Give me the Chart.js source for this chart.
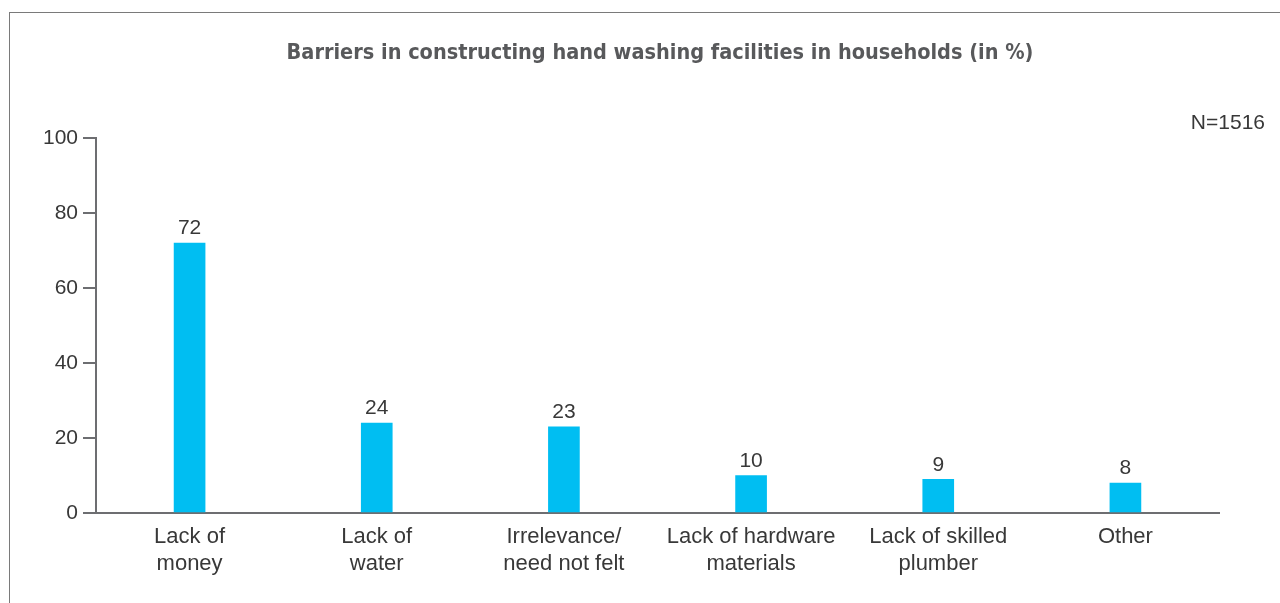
<!DOCTYPE html>
<html>
<head>
<meta charset="utf-8">
<script src="https://cdn.jsdelivr.net/npm/chart.js@4.4.0/dist/chart.umd.min.js"></script>
<style>
    html, body { margin: 0; padding: 0; background: #fff; }
    #wrap { position: relative; width: 1280px; height: 603px; }
    #frame {
        position: absolute; left: 9px; top: 12px; right: -5px; bottom: -5px;
        border-left: 1px solid #7a7a7a; border-top: 1px solid #7a7a7a;
    }
    canvas { position: absolute; left: 0; top: 0; }
</style>
</head>
<body>
<div id="wrap">
    <div id="frame"></div>
    <canvas id="barriersChart" width="1280" height="603"></canvas>
</div>
<script>
    const chartTitle = 'Barriers in constructing hand washing facilities in households (in %)';
    const sampleNote = 'N=1516';
    const categories = [
        ['Lack of', 'money'],
        ['Lack of', 'water'],
        ['Irrelevance/', 'need not felt'],
        ['Lack of hardware', 'materials'],
        ['Lack of skilled', 'plumber'],
        'Other'
    ];
    const shares = [72, 24, 23, 10, 9, 8];
    const yTicks = [0, 20, 40, 60, 80, 100];

    const textColor = '#383838';
    const axisColor = '#6d6e71';
    const lightFont = "'Liberation Sans', 'Noto Sans', sans-serif";

    // Title, N note and value labels
    const annotate = {
        id: 'annotate',
        afterDatasetsDraw(chart) {
            const ctx = chart.ctx;
            ctx.save();
            ctx.fillStyle = '#58595b';
            ctx.font = "bold 21.5px 'DejaVu Sans Condensed', sans-serif";
            ctx.textAlign = 'center';
            ctx.textBaseline = 'middle';
            ctx.fillText(chartTitle, 660, 53);

            ctx.fillStyle = textColor;
            ctx.font = '21px ' + lightFont;
            ctx.textAlign = 'right';
            ctx.fillText(sampleNote, 1265, 123);

            ctx.textAlign = 'center';
            ctx.textBaseline = 'bottom';
            chart.getDatasetMeta(0).data.forEach((bar, i) => {
                ctx.fillText(String(shares[i]), bar.x, bar.y - 4);
            });
            ctx.restore();
        }
    };

    const ctx = document.getElementById('barriersChart').getContext('2d');

    new Chart(ctx, {
        type: 'bar',
        data: {
            labels: categories,
            datasets: [{
                data: shares,
                backgroundColor: '#00bef2',
                barThickness: 31
            }]
        },
        options: {
            responsive: false,
            animation: false,
            layout: { padding: { top: 138, right: 61, left: 0, bottom: 0 } },
            plugins: {
                legend: { display: false },
                tooltip: { enabled: false },
                title: { display: false }
            },
            scales: {
                x: {
                    grid: { display: false, drawTicks: false },
                    border: { display: true, color: axisColor, width: 2 },
                    ticks: {
                        color: textColor,
                        font: { family: lightFont, size: 22, lineHeight: 1.2 },
                        padding: 11,
                        maxRotation: 0,
                        autoSkip: false
                    },
                    afterFit(scale) { scale.height = 90; }
                },
                y: {
                    min: 0,
                    max: 100,
                    afterBuildTicks(scale) {
                        scale.ticks = yTicks.map(v => ({ value: v }));
                    },
                    grid: {
                        display: true,
                        drawOnChartArea: false,
                        drawTicks: true,
                        tickLength: 13,
                        color: axisColor,
                        lineWidth: 2
                    },
                    border: { display: true, color: axisColor, width: 2 },
                    ticks: {
                        color: textColor,
                        font: { family: lightFont, size: 21 },
                        padding: 5
                    },
                    afterFit(scale) { scale.width = 96; }
                }
            }
        },
        plugins: [annotate]
    });
</script>
</body>
</html>
